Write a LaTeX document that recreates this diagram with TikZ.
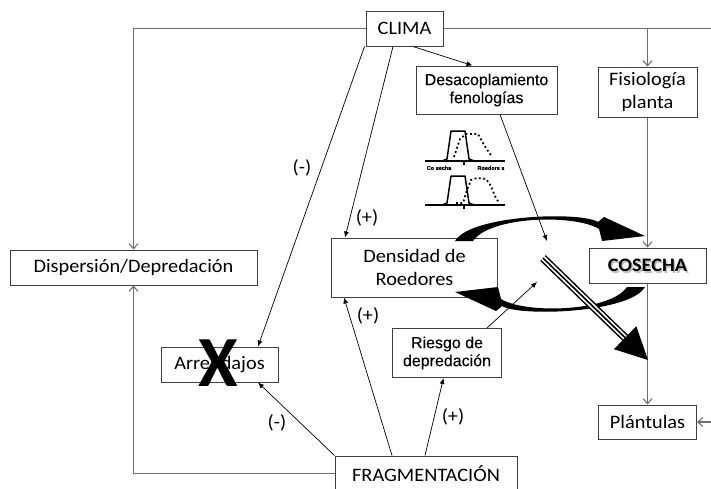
\documentclass[tikz,border=0pt]{standalone}
\usepackage{fontspec}
\setmainfont{Carlito}
\newfontfamily\calfont[FakeStretch=1.07]{Carlito}
\newfontfamily\xfont{Carlito}
\newfontfamily\arfont[FakeBold=0.3]{Liberation Sans}
\usetikzlibrary{arrows.meta,calc}
\definecolor{linegray}{RGB}{110,110,110}
\definecolor{boxgray}{RGB}{64,64,64}
\begin{document}
\begin{tikzpicture}[x=1pt,y=-1pt,
  box/.style={draw=boxgray, line width=1pt, inner sep=0pt, align=center, font=\calfont\fontsize{19}{23.5}\selectfont},
  sbox/.style={box, font=\arfont\fontsize{16}{18}\selectfont},
  glink/.style={draw=linegray, line width=1.1pt, -{Straight Barb[length=5pt,width=9pt]}},
  gline/.style={draw=linegray, line width=1.1pt},
  blink/.style={draw=black, line width=0.7pt, -{Latex[length=6pt,width=5pt]}},
  lbl/.style={font=\calfont\fontsize{19}{23}\selectfont, inner sep=0pt},
  cosfont/.style={font=\calfont\bfseries\fontsize{19}{23}\selectfont, inner sep=0pt},
  tiny/.style={font=\arfont\bfseries\fontsize{5.5}{6}\selectfont, inner sep=0pt},
  plot/.style={line width=1.5pt, line join=round},
  dots/.style={line width=1.8pt, dash pattern=on 1.8pt off 2.6pt},
]
\useasboundingbox (0,0) rectangle (711,488);

% nodes
\node[box, minimum width=77pt, minimum height=35pt] (clima) at (404.5,28.5) {CLIMA};
\node[sbox, minimum width=141pt, minimum height=48pt] (desac) at (486.5,90) {Desacoplamiento\\fenologías};
\node[box, minimum width=99pt, minimum height=50pt] (fisio) at (647.5,92) {Fisiología\\planta};
\node[box, minimum width=247pt, minimum height=35pt] (disp) at (133.5,267.5) {Dispersión/Depredación};
\node[box, minimum width=166pt, minimum height=59pt] (dens) at (414.5,267.5) {Densidad de\\Roedores};
\node[box, minimum width=117pt, minimum height=35pt] (cos) at (647.5,265.5) {};
\node[cosfont, text=gray!50] (cossh) at ([shift={(1.6pt,-1.6pt)}]cos.center) {COSECHA};
\node[cosfont] (costxt) at (cos.center) {COSECHA};
\node[box, minimum width=117pt, minimum height=35pt] (arr) at (219.5,364.5) {Arrendajos};
\node[sbox, minimum width=109pt, minimum height=49pt] (ries) at (447,353) {Riesgo de\\depredación};
\node[box, minimum width=98pt, minimum height=34pt] (plan) at (647.5,422) {Plántulas};
\node[box, minimum width=182pt, minimum height=35pt] (frag) at (426,473.5) {FRAGMENTACIÓN};
\node[font=\xfont\bfseries\fontsize{72}{72}\selectfont, inner sep=0pt] (xmark) at (218.5,363.5) {X};

% grey connectors
\coordinate (redge) at (711,28.5);
\coordinate (pin) at (711,422);
\draw[glink] (clima.west) -| (disp.north);
\draw[gline] (clima.east) -- (redge);
\draw[glink] (fisio.north |- clima.east) -- (fisio.north);
\draw[glink] (fisio.south) -- (cos.north);
\draw[glink] (cos.south) -- (plan.north);
\draw[glink] (pin) -- (plan.east);
\draw[glink] (frag.west) -| (disp.south);

% black thin arrows
\coordinate (c1) at (547,241);
\coordinate (c2) at (537,282);
\draw[blink] ([xshift=-1pt]clima.south west) -- ([xshift=38.5pt]arr.north);
\draw[blink] ([xshift=-11.5pt]clima.south) -- ([xshift=14pt]dens.north west);
\draw[blink] ([xshift=8.5pt]clima.south) -- ([xshift=-14pt]desac.north);
\draw[blink] ([xshift=13.5pt]desac.south) -- (c1);
\draw[blink] ([xshift=40pt]ries.north) -- (c2);
\draw[blink] (frag.north west) -- ([xshift=38.5pt]arr.south);
\draw[blink] ([xshift=-34pt]frag.north) -- ([xshift=13pt]dens.south west);
\draw[blink] ([xshift=-1pt]frag.north) -- ([xshift=-3.5pt]ries.south);

% labels
\node[lbl] (l1) at (302,168) {(-)};
\node[lbl] (l2) at (367,218) {(+)};
\node[lbl] (l3) at (368,316) {(+)};
\node[lbl] (l4) at (277,423) {(-)};
\node[lbl] (l5) at (453,417) {(+)};

% small plots
\draw[plot] (425,161) -- (505,161);
\draw[plot] (464,161) -- (464,164.5);
\draw[plot] (442,161) -- (447,159) -- (451,131) -- (465,131) -- (469,159) -- (474,161);
\draw[dots] (454,157) -- (460,139) -- (466,134) -- (478,134) -- (484,145) -- (492,157);
\node[tiny] (lc) at (439,168) {Co secha};
\node[tiny] (lr) at (491,168) {Roedore s};
\draw[plot] (425,205) -- (505,205);
\draw[plot] (464,205) -- (464,208.5);
\draw[plot] (442,205) -- (447,203) -- (451,176) -- (465,176) -- (469,203) -- (474,205);
\draw[dots] (456,203) -- (463,203) -- (467,190) -- (471,180) -- (477,178) -- (486,179) -- (491,186) -- (495,196) -- (499,203);

% big curved arrows
\fill (455,241) .. controls (470,215) and (580,211) .. (598,222) -- (604,217) -- (645,236) -- (602,241) -- (599,229)
  .. controls (575,214) and (490,216) .. (473,241) -- cycle;
\fill (645,287) .. controls (630,313) and (520,317) .. (502,306) -- (496,311) -- (455,292) -- (498,287) -- (501,299)
  .. controls (525,314) and (610,312) .. (627,287) -- cycle;

% triple arrow
\coordinate (ts) at (543,258);
\coordinate (tb) at (627,339.5);
\coordinate (tt) at (648,360);
\draw[line width=8pt] (ts) -- (tb);
\draw[white, line width=5pt] (ts) -- (tb);
\draw[line width=1.6pt] (ts) -- (tb);
\fill (tt) -- (613.9,349.2) -- (636.3,326.2) -- cycle;
\end{tikzpicture}
\end{document}
